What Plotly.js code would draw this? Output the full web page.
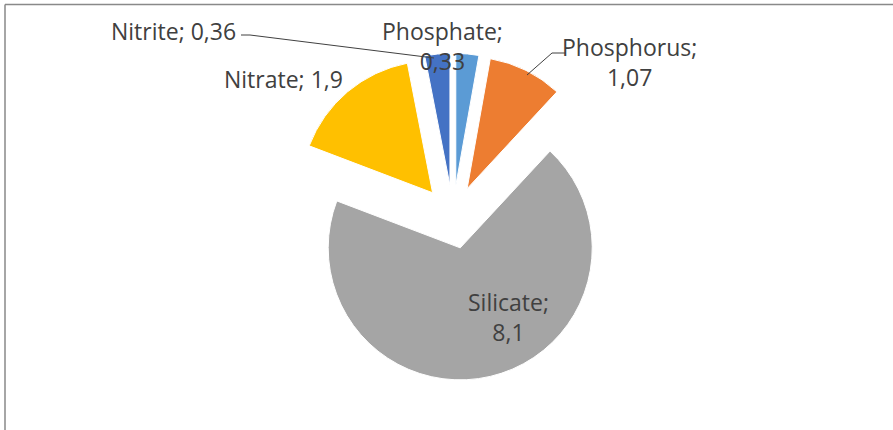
<!DOCTYPE html>
<html>
<head>
<meta charset="utf-8">
<script src="https://cdn.plot.ly/plotly-3.0.1.min.js"></script>
<style>
html,body{margin:0;padding:0;background:#fff;}
#chart{width:893px;height:430px;}
</style>
</head>
<body>
<div id="chart"></div>
<script>
// Data
const categories = ["Phosphate", "Phosphorus", "Silicate", "Nitrate", "Nitrite"];
const values = [0.33, 1.07, 8.1, 1.9, 0.36];
const colors = ["#5B9BD5", "#ED7D31", "#A5A5A5", "#FFC000", "#4472C4"];

// Layout helpers (pixel -> paper)
const W = 893, H = 430;
const px = x => x / W;
const py = y => 1 - y / H;

// Label placement (style only)
const labelPos = [
  {x: 442, y: 46, xa: "center", br: true},
  {x: 629, y: 62, xa: "center", br: true},
  {x: 508, y: 317, xa: "center", br: true},
  {x: 283, y: 79, xa: "center", br: false},
  {x: 238, y: 31, xa: "right", br: false}
];

const fmt = v => String(v).replace(".", ",");
const annotations = categories.map((c, i) => ({
  xref: "paper", yref: "paper",
  x: px(labelPos[i].x), y: py(labelPos[i].y),
  xanchor: labelPos[i].xa, yanchor: "middle",
  text: c + ";" + (labelPos[i].br ? "<br>" : " ") + fmt(values[i]),
  showarrow: false,
  align: "center",
  font: {family: "Open Sans", size: 23, color: "#404040"}
}));

const cx = 453, cy = 217, half = 163.7;

const trace = {
  type: "pie",
  labels: categories,
  values: values,
  sort: false,
  direction: "clockwise",
  rotation: 0,
  pull: values.map(() => 0.24),
  marker: {colors: colors, line: {color: "#ffffff", width: 1}},
  textinfo: "none",
  hoverinfo: "label+value",
  showlegend: false,
  domain: {x: [px(cx - half), px(cx + half)], y: [py(cy + half), py(cy - half)]}
};

const shapes = [
  {type: "line", xref: "paper", yref: "paper", x0: px(5), y0: py(4.5), x1: px(893), y1: py(4.5), line: {color: "#898989", width: 1.5}},
  {type: "line", xref: "paper", yref: "paper", x0: px(5), y0: py(4.5), x1: px(5), y1: py(430), line: {color: "#898989", width: 1.5}},
  {type: "path", xref: "paper", yref: "paper",
   path: "M " + px(241) + " " + py(35) + " L " + px(250) + " " + py(35) + " L " + px(434) + " " + py(58),
   line: {color: "#404040", width: 1}},
  {type: "path", xref: "paper", yref: "paper",
   path: "M " + px(565) + " " + py(53) + " L " + px(552) + " " + py(53) + " L " + px(527) + " " + py(75),
   line: {color: "#404040", width: 1}}
];

Plotly.newPlot("chart", [trace], {
  width: W, height: H,
  margin: {l: 0, r: 0, t: 0, b: 0},
  paper_bgcolor: "#ffffff",
  annotations: annotations,
  shapes: shapes
}, {displayModeBar: false, staticPlot: true});
</script>
</body>
</html>
